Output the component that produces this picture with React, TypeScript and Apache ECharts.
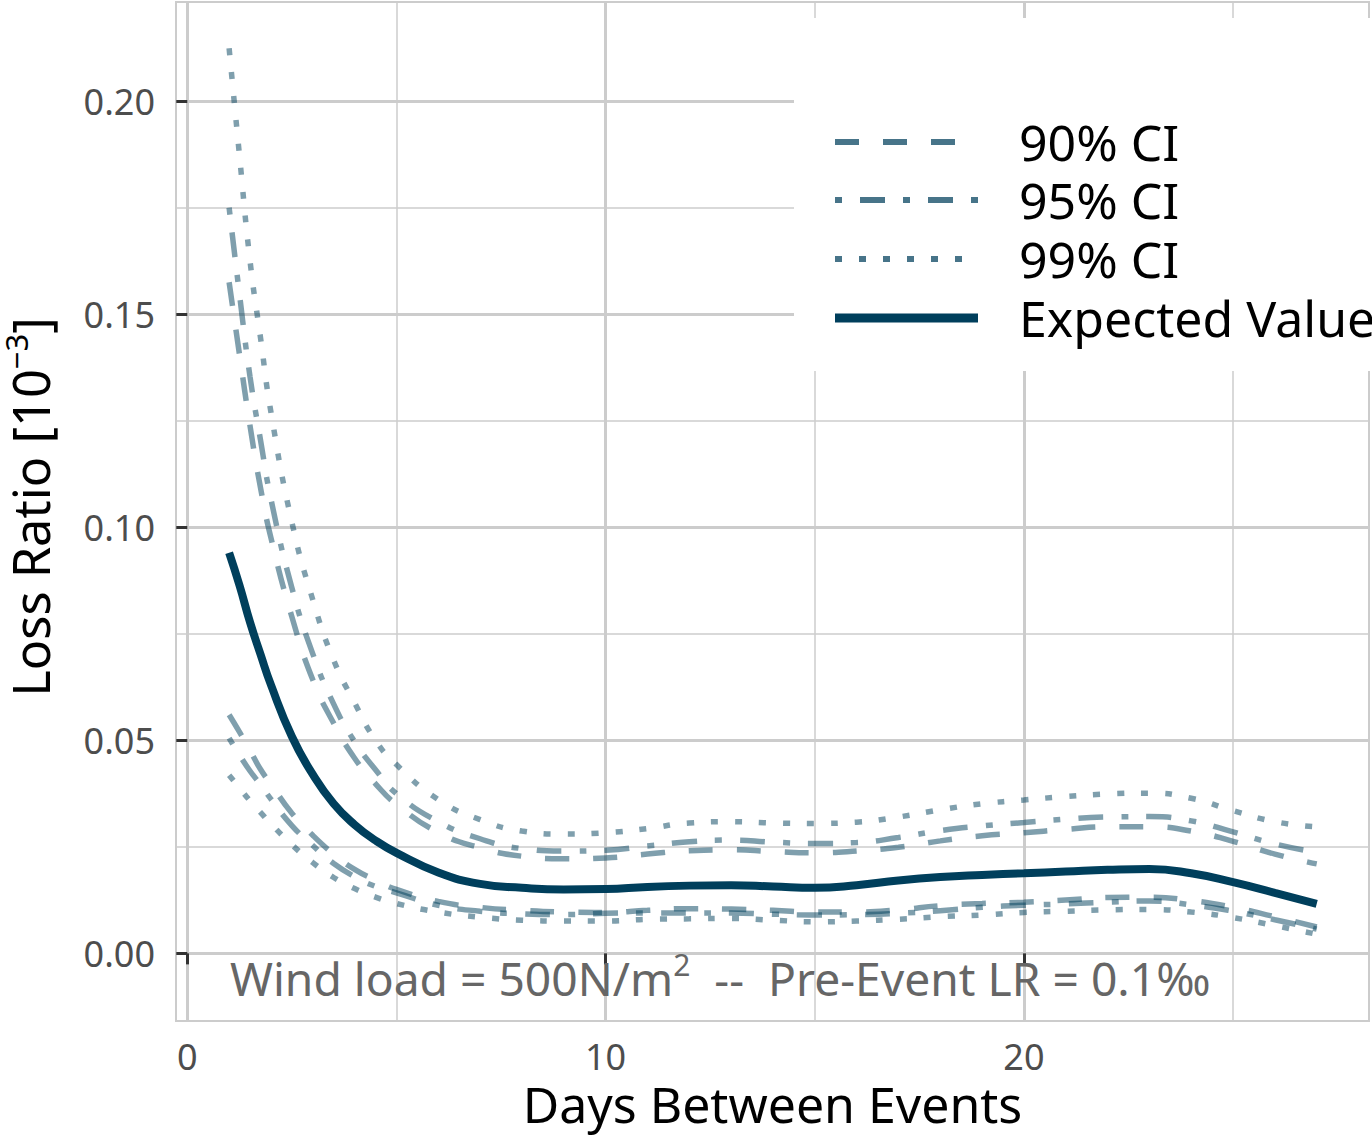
import React, { useEffect, useRef } from 'react';
import * as echarts from 'echarts';

// Days between events (x values shared by every series)
const days = [1, 1.25, 1.5, 1.75, 2, 2.5, 3, 3.5, 4, 4.5, 5, 6, 7, 8, 9, 10, 11, 12, 13, 14, 15, 16, 17, 18, 19, 20, 21, 22, 23, 24, 25, 26, 27];

// Expected value of the loss ratio [10^-3]
const expectedValue = [0.094, 0.0863, 0.0777, 0.0702, 0.063, 0.0509, 0.042, 0.0351, 0.0302, 0.0265, 0.0236, 0.019, 0.0163, 0.0154, 0.015, 0.0151, 0.0156, 0.0159, 0.016, 0.0157, 0.0154, 0.016, 0.0171, 0.0179, 0.0184, 0.0188, 0.0192, 0.0196, 0.0198, 0.0188, 0.0167, 0.0142, 0.0116];

// 90% confidence interval
const ci90Upper = [0.1575, 0.1404, 0.1238, 0.1093, 0.0975, 0.079, 0.0642, 0.054, 0.0458, 0.0398, 0.035, 0.0284, 0.0248, 0.0228, 0.0222, 0.0224, 0.0233, 0.0241, 0.0243, 0.0239, 0.0236, 0.024, 0.0249, 0.0264, 0.0276, 0.0283, 0.0291, 0.0297, 0.0297, 0.0287, 0.0263, 0.0233, 0.021];
const ci90Lower = [0.056, 0.0519, 0.0476, 0.0432, 0.0397, 0.0329, 0.0277, 0.0233, 0.0197, 0.0172, 0.015, 0.0122, 0.0108, 0.0101, 0.0097, 0.0096, 0.0101, 0.0105, 0.0104, 0.0101, 0.0097, 0.0097, 0.0102, 0.0112, 0.0117, 0.012, 0.0125, 0.0131, 0.0132, 0.0124, 0.0108, 0.0086, 0.0062];

// 95% confidence interval
const ci95Upper = [0.175, 0.1545, 0.1353, 0.1205, 0.1066, 0.0858, 0.0703, 0.0585, 0.0497, 0.0431, 0.0375, 0.0309, 0.0269, 0.0246, 0.024, 0.0242, 0.0252, 0.0262, 0.0266, 0.0261, 0.0258, 0.026, 0.0272, 0.0288, 0.0299, 0.0307, 0.0315, 0.032, 0.0321, 0.0311, 0.0285, 0.0257, 0.0237];
const ci95Lower = [0.0505, 0.0465, 0.0428, 0.0396, 0.0362, 0.03, 0.0253, 0.0211, 0.018, 0.0157, 0.0142, 0.0113, 0.0099, 0.0093, 0.0091, 0.0094, 0.0095, 0.0095, 0.0095, 0.0092, 0.009, 0.0091, 0.0094, 0.01, 0.0108, 0.0113, 0.0116, 0.012, 0.0123, 0.0114, 0.0099, 0.0079, 0.0057];

// 99% confidence interval
const ci99Upper = [0.2124, 0.187, 0.1625, 0.1445, 0.127, 0.1012, 0.083, 0.0688, 0.0588, 0.05, 0.0443, 0.0361, 0.0314, 0.0287, 0.028, 0.0283, 0.0293, 0.0306, 0.0309, 0.0306, 0.0305, 0.0308, 0.032, 0.0337, 0.0351, 0.036, 0.0368, 0.0374, 0.0376, 0.0364, 0.0335, 0.0309, 0.0297];
const ci99Lower = [0.0418, 0.0388, 0.0358, 0.0331, 0.0304, 0.0255, 0.0213, 0.0178, 0.0152, 0.0132, 0.0117, 0.0097, 0.0085, 0.0078, 0.0076, 0.0076, 0.008, 0.0081, 0.0082, 0.0078, 0.0074, 0.0076, 0.008, 0.0086, 0.009, 0.0096, 0.0099, 0.0102, 0.0103, 0.0097, 0.0084, 0.0065, 0.0045];

// Axis ticks
const xMajorTicks = [0, 10, 20];
const xMinorTicks = [5, 15, 25];
const yMajorTicks = [0, 0.05, 0.1, 0.15, 0.2];
const yMinorTicks = [0.025, 0.075, 0.125, 0.175];

const legendLabels = ['90% CI', '95% CI', '99% CI', 'Expected Value'];

const FONT = "'Noto Sans', 'Open Sans', sans-serif";
const EV_COLOR = '#003f5c';
const CI_COLOR = 'rgba(0,63,92,0.5)';
const CI_KEY_COLOR = 'rgba(0,63,92,0.72)';
const GRID_COLOR = '#cccccc';

const DASH_90 = [24, 24];
const DASH_95 = [7, 18, 25, 18];
const DASH_99 = [7, 17];

const toPairs = (ys: number[]) => days.map((d, i) => [d, ys[i]]);

function ciSeries(name: string, ys: number[], dash: number[]) {
  return {
    type: 'line',
    name,
    data: toPairs(ys),
    showSymbol: false,
    symbol: 'none',
    smooth: 0.5,
    silent: true,
    z: 2,
    lineStyle: { color: CI_COLOR, width: 5.5, type: dash, cap: 'butt' },
  };
}

export default function App() {
  const ref = useRef<HTMLDivElement>(null);

  useEffect(() => {
    if (!ref.current) return;
    const chart = echarts.init(ref.current, undefined, { renderer: 'svg' });

    const xMin = -0.27;
    const xMax = 28.25;
    const yMin = -0.01587;
    const yMax = 0.22327;

    const legendY = [142, 200, 259, 318];
    const keyDash = [DASH_90, DASH_95, DASH_99];

    const legendElements: any[] = [
      {
        type: 'rect',
        shape: { x: 794, y: 18, width: 578, height: 353 },
        style: { fill: '#ffffff' },
        z: 100,
      },
    ];
    legendLabels.forEach((label, i) => {
      const isEV = i === 3;
      legendElements.push({
        type: 'line',
        shape: { x1: 835, y1: legendY[i], x2: 978, y2: legendY[i] },
        style: {
          stroke: isEV ? EV_COLOR : CI_KEY_COLOR,
          lineWidth: isEV ? 9 : 6,
          lineDash: isEV ? null : keyDash[i],
          lineCap: 'butt',
        },
        z: 101,
      });
      legendElements.push({
        type: 'text',
        x: 1019,
        y: legendY[i],
        style: {
          text: label,
          fill: '#000000',
          fontSize: 50,
          fontFamily: FONT,
          verticalAlign: 'middle',
          align: 'left',
        },
        z: 101,
      });
    });

    const annotation = {
      type: 'text',
      x: 230,
      y: 978,
      z: 50,
      style: {
        text: '{a|Wind load = 500N/m}{s|2}{a|  --  Pre-Event LR = 0.1‰}',
        fill: '#666666',
        fontFamily: FONT,
        verticalAlign: 'middle',
        align: 'left',
        rich: {
          a: { fontSize: 46.2, fill: '#666666', fontFamily: FONT, lineHeight: 58, verticalAlign: 'middle' },
          s: { fontSize: 30, fill: '#666666', fontFamily: FONT, lineHeight: 30, verticalAlign: 'top' },
        },
      },
    };

    const option: any = {
      animation: false,
      backgroundColor: '#ffffff',
      textStyle: { fontFamily: FONT },
      grid: {
        left: 176,
        top: 2,
        width: 1193,
        height: 1019,
        show: true,
        borderColor: GRID_COLOR,
        borderWidth: 2,
        backgroundColor: 'transparent',
        containLabel: false,
        outerBoundsMode: 'none',
      },
      xAxis: [
        {
          type: 'value',
          min: xMin,
          max: xMax,
          position: 'bottom',
          axisLine: { show: false },
          axisTick: { show: true, length: 11, customValues: xMajorTicks, lineStyle: { color: '#333333', width: 3 } },
          axisLabel: { show: true, customValues: xMajorTicks, fontSize: 36, color: '#4d4d4d', fontFamily: FONT, margin: 17 },
          splitLine: { show: true, lineStyle: { color: GRID_COLOR, width: 3 } },
          name: 'Days Between Events',
          nameLocation: 'middle',
          nameGap: 55,
          nameTextStyle: { fontSize: 50, color: '#000000', fontFamily: FONT },
        },
        {
          type: 'value',
          min: xMin,
          max: xMax,
          position: 'bottom',
          axisLine: { show: false },
          axisTick: { show: false, customValues: xMinorTicks },
          axisLabel: { show: false, customValues: xMinorTicks },
          splitLine: { show: true, lineStyle: { color: GRID_COLOR, width: 1.5 } },
        },
      ],
      yAxis: [
        {
          type: 'value',
          min: yMin,
          max: yMax,
          position: 'left',
          axisLine: { show: false },
          axisTick: { show: true, length: 11, customValues: yMajorTicks, lineStyle: { color: '#333333', width: 3 } },
          axisLabel: {
            show: true,
            customValues: yMajorTicks,
            fontSize: 36,
            color: '#4d4d4d',
            fontFamily: FONT,
            margin: 21,
            formatter: (v: number) => v.toFixed(2),
          },
          splitLine: { show: true, lineStyle: { color: GRID_COLOR, width: 3 } },
          name: '{a|Loss Ratio [10}{s|−3}{a|]}',
          nameLocation: 'middle',
          nameGap: 116,
          nameRotate: 90,
          nameTextStyle: {
            fontSize: 50,
            color: '#000000',
            fontFamily: FONT,
            padding: [0, 0, 0, 9],
            rich: {
              a: { fontSize: 50.5, color: '#000000', fontFamily: FONT, lineHeight: 60, verticalAlign: 'middle' },
              s: { fontSize: 31, color: '#000000', fontFamily: FONT, lineHeight: 31, verticalAlign: 'top' },
            },
          },
        },
        {
          type: 'value',
          min: yMin,
          max: yMax,
          position: 'left',
          axisLine: { show: false },
          axisTick: { show: false, customValues: yMinorTicks },
          axisLabel: { show: false, customValues: yMinorTicks },
          splitLine: { show: true, lineStyle: { color: GRID_COLOR, width: 1.5 } },
        },
      ],
      series: [
        ciSeries('90% CI upper', ci90Upper, DASH_90),
        ciSeries('90% CI lower', ci90Lower, DASH_90),
        ciSeries('95% CI upper', ci95Upper, DASH_95),
        ciSeries('95% CI lower', ci95Lower, DASH_95),
        ciSeries('99% CI upper', ci99Upper, DASH_99),
        ciSeries('99% CI lower', ci99Lower, DASH_99),
        {
          type: 'line',
          name: 'Expected Value',
          data: toPairs(expectedValue),
          showSymbol: false,
          symbol: 'none',
          smooth: 0.5,
          silent: true,
          z: 3,
          lineStyle: { color: EV_COLOR, width: 8 },
        },
      ],
      graphic: [annotation, ...legendElements],
    };

    chart.setOption(option);
    return () => {
      chart.dispose();
    };
  }, []);

  return (
    <div
      ref={ref}
      style={{ position: 'fixed', left: 0, top: 0, width: 1372, height: 1136, background: '#ffffff' }}
    />
  );
}
